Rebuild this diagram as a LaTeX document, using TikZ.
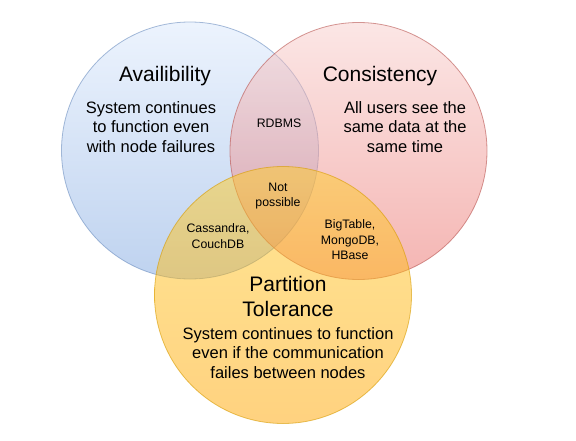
\documentclass[tikz,border=0pt]{standalone}
\usepackage{fontspec}
\setmainfont{Liberation Sans}
\definecolor{bluetop}{HTML}{DAE8FC}
\definecolor{bluebot}{HTML}{7EA6E0}
\definecolor{blueline}{HTML}{6C8EBF}
\definecolor{redtop}{HTML}{F8CECC}
\definecolor{redbot}{HTML}{EA6B66}
\definecolor{redline}{HTML}{B85450}
\definecolor{yeltop}{HTML}{FFCD28}
\definecolor{yelbot}{HTML}{FFA500}
\definecolor{yelline}{HTML}{D79B00}
\tikzset{
  setcircle/.style={circle, minimum size=257pt, inner sep=0pt, fill opacity=0.5, draw opacity=0.6, line width=0.8pt},
  title/.style={align=center, font=\fontsize{21}{25}\selectfont, text=black},
  body/.style={align=center, font=\fontsize{16.5}{19.2}\selectfont, text=black},
  small/.style={align=center, font=\fontsize{12.3}{15.5}\selectfont, text=black},
}
\begin{document}
\begin{tikzpicture}[x=1pt, y=-1pt]
\useasboundingbox (0,0) rectangle (576,441);
\node[setcircle, draw=blueline, top color=bluetop, bottom color=bluebot] (avail) at (190,150.5) {};
\node[setcircle, draw=redline, top color=redtop, bottom color=redbot] (cons) at (358.5,151) {};
\node[setcircle, draw=yelline, top color=yeltop, bottom color=yelbot] (part) at (283,295) {};

\node[title] (tA) at (165,76) {Availibility};
\node[body] (bA) at (151,127) {System continues\\to function even\\with node failures};
\node[title] (tC) at (380,76) {Consistency};
\node[body] (bC) at (405,127) {All users see the\\same data at the\\same time};
\node[small] (rdbms) at (279,123) {RDBMS};
\node[small] (notp) at (278,196) {Not\\possible};
\node[small] (cass) at (218,236) {Cassandra,\\CouchDB};
\node[small] (big) at (350,240) {BigTable,\\MongoDB,\\HBase};
\node[title] (tP) at (288,296) {Partition\\Tolerance};
\node[body] (bP) at (288,353) {System continues to function\\even if the communication\\failes between nodes};
\end{tikzpicture}
\end{document}
